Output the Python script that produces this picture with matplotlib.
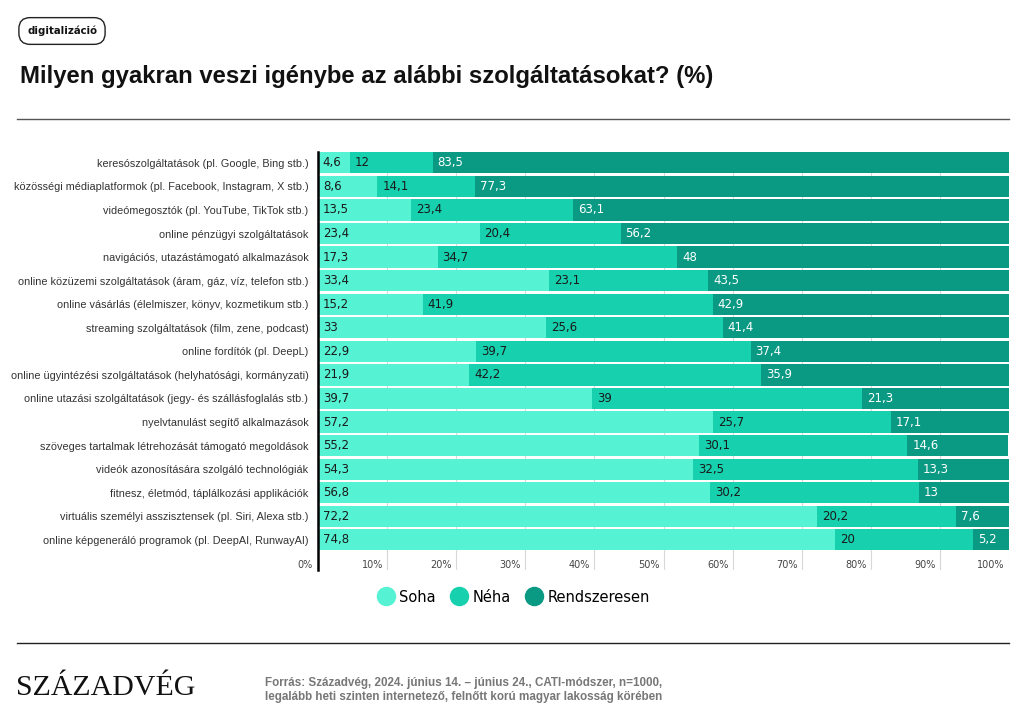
import numpy as np
import matplotlib.pyplot as plt
from matplotlib.lines import Line2D

categories = [
    "keresószolgáltatások (pl. Google, Bing stb.)",
    "közösségi médiaplatformok (pl. Facebook, Instagram, X stb.)",
    "videómegosztók (pl. YouTube, TikTok stb.)",
    "online pénzügyi szolgáltatások",
    "navigációs, utazástámogató alkalmazások",
    "online közüzemi szolgáltatások (áram, gáz, víz, telefon stb.)",
    "online vásárlás (élelmiszer, könyv, kozmetikum stb.)",
    "streaming szolgáltatások (film, zene, podcast)",
    "online fordítók (pl. DeepL)",
    "online ügyintézési szolgáltatások (helyhatósági, kormányzati)",
    "online utazási szolgáltatások (jegy- és szállásfoglalás stb.)",
    "nyelvtanulást segítő alkalmazások",
    "szöveges tartalmak létrehozását támogató megoldások",
    "videók azonosítására szolgáló technológiák",
    "fitnesz, életmód, táplálkozási applikációk",
    "virtuális személyi asszisztensek (pl. Siri, Alexa stb.)",
    "online képgeneráló programok (pl. DeepAI, RunwayAI)",
]
soha = [4.6, 8.6, 13.5, 23.4, 17.3, 33.4, 15.2, 33, 22.9, 21.9, 39.7, 57.2, 55.2, 54.3, 56.8, 72.2, 74.8]
neha = [12, 14.1, 23.4, 20.4, 34.7, 23.1, 41.9, 25.6, 39.7, 42.2, 39, 25.7, 30.1, 32.5, 30.2, 20.2, 20]
rendsz = [83.5, 77.3, 63.1, 56.2, 48, 43.5, 42.9, 41.4, 37.4, 35.9, 21.3, 17.1, 14.6, 13.3, 13, 7.6, 5.2]
series_names = ["Soha", "Néha", "Rendszeresen"]
colors = ["#55F2D3", "#16D0AE", "#0A9983"]
text_colors = ["#1a1a1a", "#1a1a1a", "white"]
ticks = list(range(0, 101, 10))

fig = plt.figure(figsize=(10.27, 7.2), dpi=100)
W, H = 1027, 720

def fx(px):
    return px / W

def fy(py):
    return 1 - py / H

ax = fig.add_axes([fx(318), fy(570), fx(1009) - fx(318), fy(152) - fy(570)])

y = np.arange(len(categories))
data = [soha, neha, rendsz]
left = np.zeros(len(categories))
for vals, c, tc in zip(data, colors, text_colors):
    vals = np.array(vals, dtype=float)
    ax.barh(y, vals, left=left, height=0.9, color=c, edgecolor="none", zorder=2)
    for yi, (l, v) in enumerate(zip(left, vals)):
        ax.text(l + 0.7, yi, f"{v:g}".replace(".", ","), va="center", ha="left",
                fontsize=8.5, color=tc, zorder=4)
    left = left + vals

ax.set_xlim(0, 100)
ax.set_ylim(len(categories) - 0.5 + 0.78, -0.46)

for t in ticks[1:]:
    ax.axvline(t, color="#d8d8d8", lw=0.8, zorder=1)
    ax.text(t - 0.6, len(categories) + 0.05, f"{t}%", ha="right", va="center",
            fontsize=7, color="#444444")
ax.text(-0.8, len(categories) + 0.05, "0%", ha="right", va="center",
        fontsize=7, color="#444444")

ax.set_yticks(y)
ax.set_yticklabels(categories, fontsize=7.8, color="#333333", family="Liberation Sans")
ax.tick_params(axis="y", length=0, pad=7)
ax.set_xticks([])
for s in ["top", "right", "bottom"]:
    ax.spines[s].set_visible(False)
ax.spines["left"].set_linewidth(1.8)
ax.spines["left"].set_color("black")
ax.spines["left"].set_zorder(5)

# legend
handles = [Line2D([0], [0], marker="o", color="none", markerfacecolor=c,
                  markeredgecolor=c, markersize=13) for c in colors]
fig.legend(handles, series_names, loc="center", bbox_to_anchor=(0.5, fy(597)),
           ncol=3, frameon=False, fontsize=10.5, handletextpad=0.3,
           columnspacing=1.0, handlelength=1.2)

# header
fig.text(fx(62), fy(31), "digitalizáció", ha="center", va="center", fontsize=7.3,
         fontweight="bold", color="#111111",
         bbox=dict(boxstyle="round,pad=0.8,rounding_size=1.1", fc="white",
                   ec="#222222", lw=1))
fig.text(fx(20), fy(77), "Milyen gyakran veszi igénybe az alábbi szolgáltatásokat? (%)",
         ha="left", va="center", fontsize=17.2, fontweight="bold", color="#111111",
         family="Liberation Sans")
fig.add_artist(Line2D([fx(17), fx(1009)], [fy(119), fy(119)], color="#555555", lw=1))
fig.add_artist(Line2D([fx(17), fx(1009)], [fy(643), fy(643)], color="#222222", lw=1))

# footer
fig.text(fx(16), fy(688), "SZÁZADVÉG", ha="left", va="center", fontsize=21.5,
         family="Liberation Serif", color="#111111")
fig.text(fx(265), fy(690), "Forrás: Századvég, 2024. június 14. – június 24., CATI-módszer, n=1000,\n"
         "legalább heti szinten internetező, felnőtt korú magyar lakosság körében",
         ha="left", va="center", fontsize=8.4, fontweight="bold", color="#777777",
         linespacing=1.15, family="Liberation Sans")

fig.savefig("out.png", dpi=100)
